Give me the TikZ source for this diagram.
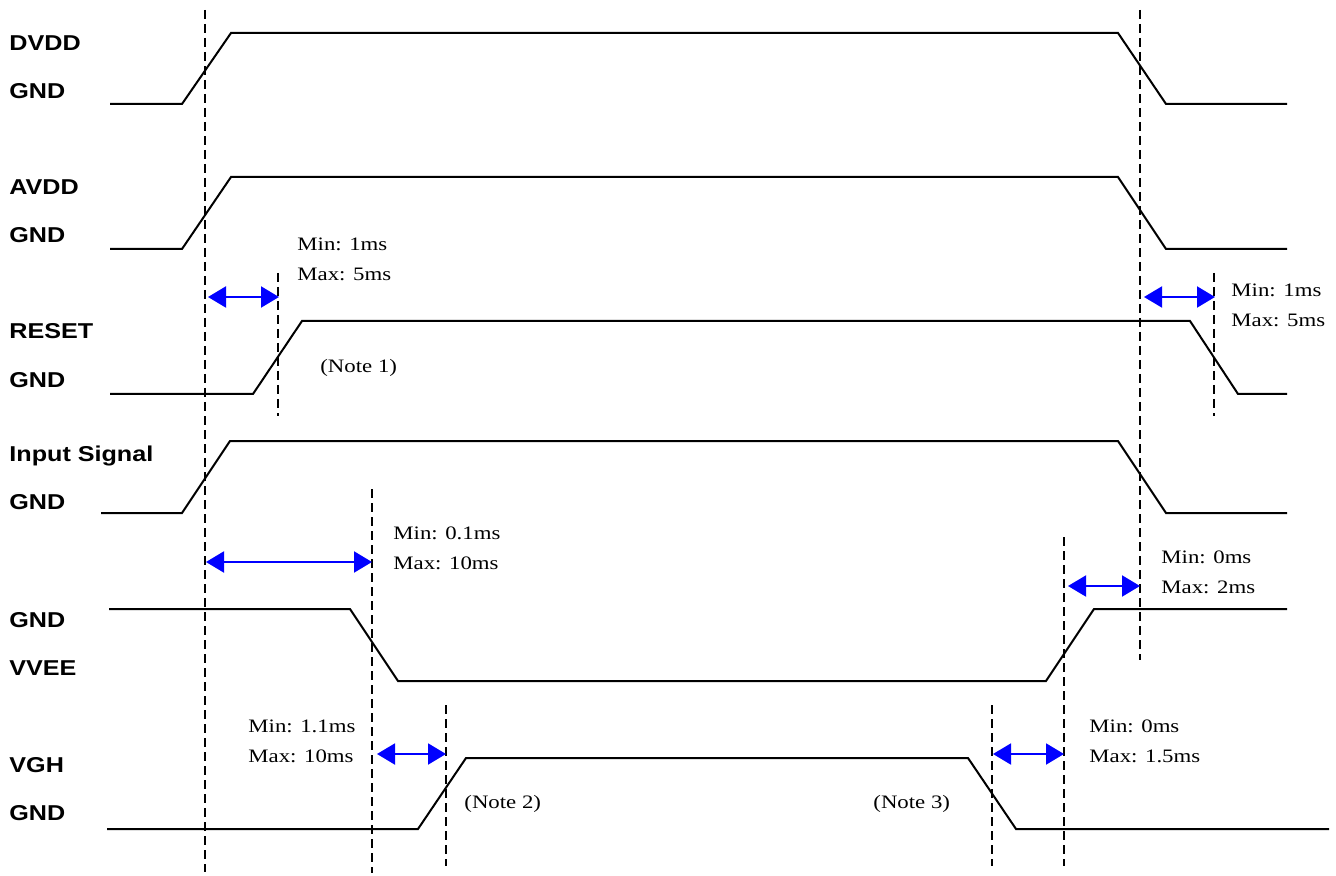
\documentclass[tikz,border=0pt]{standalone}
\usepackage{fontspec}
\setmainfont[FakeStretch=1.2]{Liberation Serif}
\newfontfamily\labelfont[FakeStretch=1.17]{Liberation Sans}
\usetikzlibrary{arrows.meta}
\begin{document}
\begin{tikzpicture}[
    x=0.5pt, y=-0.5pt,
    signal/.style={line width=1pt, line join=miter},
    guide/.style={line width=0.7pt, dash pattern=on 4.5pt off 2.5pt},
    dim/.style={{Triangle[length=9pt,width=10.5pt]}-{Triangle[length=9pt,width=10.5pt]}, blue, line width=1pt},
    level/.style={anchor=base west, inner sep=0pt, font=\labelfont\bfseries\fontsize{10.75pt}{12pt}\selectfont},
    note/.style={anchor=base west, inner sep=0pt, font=\fontsize{9.5pt}{11pt}\selectfont}
]
\useasboundingbox (0,0) rectangle (1336,876);

\node[level] (dvdd)   at (9,51)  {DVDD};
\node[level] (gnd1)   at (9,99)  {GND};
\node[level] (avdd)   at (9,195) {AVDD};
\node[level] (gnd2)   at (9,243) {GND};
\node[level] (reset)  at (9,339) {RESET};
\node[level] (gnd3)   at (9,387) {GND};
\node[level] (input)  at (9,461) {Input Signal};
\node[level] (gnd4)   at (9,509) {GND};
\node[level] (gnd5)   at (9,627) {GND};
\node[level] (vvee)   at (9,675) {VVEE};
\node[level] (vgh)    at (9,772) {VGH};
\node[level] (gnd6)   at (9,820) {GND};

\draw[signal] (110,104) -- (182,104) -- (231,33) -- (1118,33) -- (1166,104) -- (1287,104);
\draw[signal] (110,249) -- (182,249) -- (231,177) -- (1118,177) -- (1166,249) -- (1287,249);
\draw[signal] (110,394) -- (253,394) -- (302,321) -- (1190,321) -- (1238,394) -- (1287,394);
\draw[signal] (101,513) -- (182,513) -- (230,441) -- (1118,441) -- (1166,513) -- (1287,513);
\draw[signal] (109,609) -- (350,609) -- (398,681) -- (1046,681) -- (1094,609) -- (1287,609);
\draw[signal] (107,829) -- (418,829) -- (466,758) -- (968,758) -- (1016,829) -- (1329,829);

\draw[guide] (205,10)  -- (205,872);
\draw[guide] (1140,10) -- (1140,660);
\draw[guide] (278,273) -- (278,416);
\draw[guide] (1214,273) -- (1214,416);
\draw[guide] (372,489) -- (372,873);
\draw[guide] (446,705) -- (446,866);
\draw[guide] (1064,537) -- (1064,866);
\draw[guide] (992,705) -- (992,866);

\coordinate (rstOnA)  at (208,297);
\coordinate (rstOnB)  at (279,297);
\coordinate (rstOffA) at (1144,297);
\coordinate (rstOffB) at (1215,297);
\coordinate (veeOnA)  at (206,562);
\coordinate (veeOnB)  at (372,562);
\coordinate (veeOffA) at (1068,586);
\coordinate (veeOffB) at (1140,586);
\coordinate (ghOnA)   at (377,754);
\coordinate (ghOnB)   at (446,754);
\coordinate (ghOffA)  at (993,754);
\coordinate (ghOffB)  at (1064,754);

\draw[dim] (rstOnA) -- (rstOnB);
\draw[dim] (rstOffA) -- (rstOffB);
\draw[dim] (veeOnA) -- (veeOnB);
\draw[dim] (veeOffA) -- (veeOffB);
\draw[dim] (ghOnA) -- (ghOnB);
\draw[dim] (ghOffA) -- (ghOffB);

\node[note] (rstOnMin)  at (297,251)  {Min: 1ms};
\node[note] (rstOnMax)  at (297,281)  {Max: 5ms};
\node[note] (note1)     at (320,373)  {(Note 1)};
\node[note] (rstOffMin) at (1231,297) {Min: 1ms};
\node[note] (rstOffMax) at (1231,327) {Max: 5ms};
\node[note] (veeOnMin)  at (393,539)  {Min: 0.1ms};
\node[note] (veeOnMax)  at (393,569)  {Max: 10ms};
\node[note] (veeOffMin) at (1161,563) {Min: 0ms};
\node[note] (veeOffMax) at (1161,593) {Max: 2ms};
\node[note] (ghOnMin)   at (248,732)  {Min: 1.1ms};
\node[note] (ghOnMax)   at (248,762)  {Max: 10ms};
\node[note] (note2)     at (464,808)  {(Note 2)};
\node[note] (note3)     at (873,808)  {(Note 3)};
\node[note] (ghOffMin)  at (1089,732) {Min: 0ms};
\node[note] (ghOffMax)  at (1089,762) {Max: 1.5ms};

\end{tikzpicture}
\end{document}
